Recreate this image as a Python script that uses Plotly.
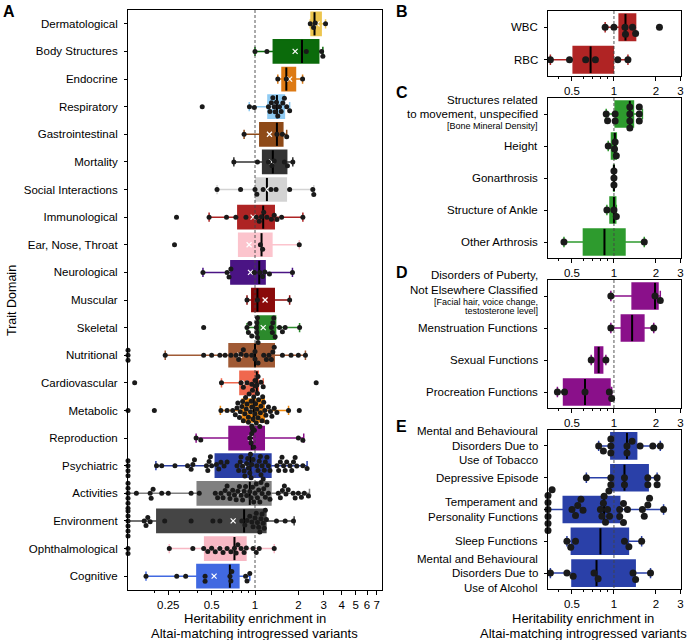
import math
import plotly.graph_objects as go

# ---------------- data: panel A ----------------
A_labels = ["Dermatological", "Body Structures", "Endocrine", "Respiratory", "Gastrointestinal",
            "Mortality", "Social Interactions", "Immunological", "Ear, Nose, Throat", "Neurological",
            "Muscular", "Skeletal", "Nutritional", "Cardiovascular", "Metabolic", "Reproduction",
            "Psychiatric", "Activities", "Environment", "Ophthalmological", "Cognitive"]
A_colors = ["#EDC54E", "#0B6B0B", "#DD7A14", "#8FCBF3", "#8E4A18", "#333333", "#D3D3D3",
            "#AE2424", "#FCC4CD", "#4A1484", "#8A0A0A", "#2C8A2C", "#A05A35", "#F0684E",
            "#F08A10", "#8A108A", "#2A3FA5", "#808080", "#454545", "#F8B8C4", "#4169E1"]
A_q1 = [2.45, 1.34, 1.54, 1.23, 1.08, 1.13, 1.01, 0.76, 0.77, 0.68, 0.95, 1.04, 0.66, 0.786,
        0.815, 0.66, 0.53, 0.397, 0.208, 0.447, 0.395]
A_median = [2.59, 2.12, 1.65, 1.42, 1.42, 1.33, 1.21, 1.14, 1.11, 1.07, 1.04, 1.04, 1.0, 1.03,
            0.98, 0.95, 0.93, 0.92, 0.84, 0.72, 0.669]
A_q3 = [2.88, 2.77, 1.91, 1.60, 1.56, 1.66, 1.65, 1.36, 1.31, 1.175, 1.36, 1.39, 1.36, 1.055,
        1.16, 1.16, 1.29, 1.29, 1.19, 0.865, 0.773]
A_low = [2.42, 1.0, 1.44, 0.912, 0.84, 0.713, 0.545, 0.48, 0.77, 0.435, 0.88, 0.88, 0.238, 0.585,
         0.575, 0.39, 0.205, 0.0, 0.0, 0.254, 0.175]
A_high = [3.09, 2.96, 2.14, 1.74, 1.66, 1.83, 2.56, 2.15, 2.03, 1.82, 1.74, 2.04, 2.24, 1.14,
          1.71, 2.18, 2.3, 2.39, 1.87, 1.36, 0.92]
A_mean = [2.70, 1.90, 1.74, 1.33, 1.26, 1.30, 1.2, 0.97, 0.91, 0.93, 1.175, 1.14, 0.78, 0.85,
          0.93, 0.93, 0.85, 0.79, 0.705, 0.57, 0.52]

pts_dermatological = [2.42, 2.55, 2.62, 3.09]
pts_body = [1.0, 1.21, 2.27, 2.9, 2.96]
pts_endocrine = [1.44, 1.65, 2.14]
pts_respiratory = [0.43, 0.915, 0.99, 1.24, 1.27, 1.3, 1.33, 1.36, 1.38, 1.41, 1.44, 1.48, 1.52,
                   1.56, 1.6, 1.66, 1.74]
pts_gastro = [0.84, 1.42, 1.55, 1.66]
pts_mortality = [0.713, 1.04, 1.24, 1.31, 1.36, 1.6, 1.68, 1.83]
pts_social = [0.545, 0.794, 1.0, 1.03, 1.14, 1.29, 1.40, 1.74, 2.52, 2.56]
pts_immuno = [0.285, 0.48, 0.634, 0.736, 0.865, 1.02, 1.07, 1.11, 1.15, 1.21, 1.3, 1.36, 1.42,
              1.53, 2.15]
pts_ent = [0.276, 1.09, 1.13, 2.03]
pts_neuro = [0.435, 0.64, 0.66, 0.68, 0.99, 1.08, 1.13, 1.17, 1.26, 1.82]
pts_muscular = [0.88, 1.04, 1.74]
pts_skeletal = [0.44, 0.88, 0.9, 0.92, 0.95, 1.02, 1.03, 1.03, 1.04, 1.04, 1.05, 1.3, 1.32, 1.33,
                1.35, 1.38, 1.48, 1.55, 1.62, 2.04]
pts_nutritional = [0, 0, 0, 0.238, 0.44, 0.5, 0.57, 0.62, 0.68, 0.74, 0.77, 0.8, 0.83, 0.87, 0.95,
                   1.0, 1.0, 1.05, 1.15, 1.2, 1.25, 1.3, 1.33, 1.36, 1.55, 1.78, 2.0, 2.24]
pts_cardio = [0.146, 0.585, 0.80, 0.83, 0.88, 0.95, 1.0, 1.03, 1.05, 1.1, 1.14, 2.66]
pts_metabolic = [0, 0.2, 0.58, 0.64, 0.7, 0.73, 0.75, 0.76, 0.78, 0.79, 0.81, 0.82, 0.83, 0.85,
                 0.86, 0.87, 0.88, 0.9, 0.9, 0.91, 0.93, 0.94, 0.95, 0.95, 0.96, 0.97, 0.98, 0.99,
                 1.0, 1.0, 1.01, 1.02, 1.03, 1.04, 1.05, 1.06, 1.08, 1.09, 1.1, 1.12, 1.13, 1.15,
                 1.17, 1.19, 1.21, 1.24, 1.28, 1.31, 1.36, 1.42, 1.71, 2.03]
pts_reproduction = [0.39, 0.42, 0.92, 0.94, 0.95, 0.96, 0.98, 2.0, 2.15]
pts_psychiatric = [0, 0, 0, 0, 0.207, 0.225, 0.278, 0.34, 0.36, 0.37, 0.38, 0.46, 0.47, 0.48, 0.49,
                   0.5, 0.54, 0.56, 0.58, 0.61, 0.64, 0.75, 0.77, 0.79, 0.8, 0.82, 0.84, 0.85,
                   0.875, 0.89, 0.9, 0.92, 0.93, 0.94, 0.95, 0.97, 1.03, 1.05, 1.07, 1.09, 1.1,
                   1.12, 1.14, 1.16, 1.18, 1.21, 1.24, 1.27, 1.42, 1.46, 1.5, 1.54, 1.58, 1.62,
                   1.66, 1.75, 1.8, 1.85, 1.9, 1.95, 2.15, 2.3]
pts_activities = [0, 0, 0, 0, 0, 0, 0.15, 0.187, 0.19, 0.196, 0.225, 0.25, 0.36, 0.41, 0.53, 0.55,
                  0.58, 0.6, 0.62, 0.64, 0.66, 0.67, 0.7, 0.72, 0.74, 0.76, 0.78, 0.8, 0.82, 0.84,
                  0.86, 0.875, 0.92, 0.94, 0.96, 0.98, 1.0, 1.02, 1.04, 1.06, 1.08, 1.1, 1.12,
                  1.15, 1.18, 1.21, 1.24, 1.27, 1.45, 1.5, 1.55, 1.6, 1.64, 1.7, 1.84, 1.9, 2.0,
                  2.1, 2.2, 2.35]
pts_environment = [0, 0, 0, 0, 0, 0, 0.17, 0.175, 0.18, 0.187, 0.236, 0.36, 0.51, 0.57, 0.81,
                   0.85, 0.88, 0.92, 0.95, 0.97, 1.0, 1.02, 1.04, 1.06, 1.08, 1.1, 1.12, 1.14,
                   1.16, 1.18, 1.2, 1.41, 1.62, 1.85]
pts_ophthalmological = [0, 0, 0.254, 0.37, 0.44, 0.47, 0.5, 0.53, 0.57, 0.6, 0.64, 0.68, 0.72,
                        0.74, 0.76, 0.8, 0.84, 0.87, 0.97, 1.02, 1.07, 1.36]
pts_cognitive = [0.175, 0.286, 0.33, 0.45, 0.45, 0.67, 0.68, 0.69, 0.86, 0.88, 0.92]

A_points = [pts_dermatological, pts_body, pts_endocrine, pts_respiratory, pts_gastro,
            pts_mortality, pts_social, pts_immuno, pts_ent, pts_neuro, pts_muscular,
            pts_skeletal, pts_nutritional, pts_cardio, pts_metabolic, pts_reproduction,
            pts_psychiatric, pts_activities, pts_environment, pts_ophthalmological, pts_cognitive]

# ---------------- data: panel B ----------------
B_labels = [["WBC"], ["RBC"]]
B_q1 = [1.09, 0.51]
B_median = [1.21, 0.68]
B_q3 = [1.43, 0.99]
B_low = [0.865, 0.35]
B_high = [1.43, 1.26]
B_points = [[0.865, 1.0, 1.2, 1.21, 1.36, 1.43, 2.12],
            [0.35, 0.48, 0.627, 0.736, 1.066, 1.26]]

# ---------------- data: panel C ----------------
C_labels = [["Structures related", "to movement, unspecified", "[Bone Mineral Density]"],
            ["Height"], ["Gonarthrosis"], ["Structure of Ankle"], ["Other Arthrosis"]]
C_q1 = [1.02, 0.96, 0.995, 0.937, 0.604]
C_median = [1.30, 1.016, 1.0, 1.0, 0.855]
C_q3 = [1.38, 1.04, 1.005, 1.03, 1.2]
C_low = [0.88, 0.91, 0.995, 0.89, 0.438]
C_high = [1.60, 1.04, 1.005, 1.04, 1.65]
C_points = [[0.88, 0.9, 1.02, 1.02, 1.3, 1.3, 1.3, 1.3, 1.52, 1.52, 1.52],
            [0.91, 1.01, 1.02, 1.04],
            [1.0, 1.0, 1.0],
            [0.89, 1.0, 1.04],
            [0.438, 1.65]]

# ---------------- data: panel D ----------------
D_labels = [["Disorders of Puberty,", "Not Elsewhere Classified",
             "[Facial hair, voice change,", "testosterone level]"],
            ["Menstruation Functions"], ["Sexual Functions"], ["Procreation Functions"]]
D_q1 = [1.35, 1.13, 0.73, 0.435]
D_median = [1.97, 1.35, 0.777, 0.62]
D_q3 = [2.07, 1.64, 0.83, 0.937]
D_low = [0.95, 0.95, 0.687, 0.393]
D_high = [2.15, 1.93, 0.875, 0.963]
D_points = [[0.95, 1.97, 2.15], [0.95, 1.93], [0.687, 0.875],
            [0.393, 0.442, 0.62, 0.927, 0.963]]

# ---------------- data: panel E ----------------
E_labels = [["Mental and Behavioural", "Disorders Due to", "Use of Tobacco"],
            ["Depressive Episode"], ["Temperament and", "Personality Functions"],
            ["Sleep Functions"], ["Mental and Behavioural", "Disorders Due to", "Use of Alcohol"]]
E_q1 = [0.95, 0.95, 0.433, 0.495, 0.5]
E_median = [1.24, 1.19, 0.85, 0.8, 0.75]
E_q3 = [1.455, 1.76, 1.1, 1.27, 1.42]
E_low = [0.777, 0.634, 0.0, 0.46, 0.35]
E_high = [2.15, 2.04, 2.27, 1.58, 1.83]
E_points = [[0.777, 0.84, 0.95, 0.95, 0.95, 1.24, 1.24, 1.35, 1.54, 1.9, 2.15],
            [0.634, 0.95, 0.95, 1.19, 1.19, 1.75, 1.75, 2.04, 2.04],
            [0, 0, 0, 0, 0, 0, 0.36, 0.5, 0.53, 0.55, 0.58, 0.6, 0.8, 0.82, 0.84, 0.85, 0.87,
             0.9, 0.92, 0.93, 1.1, 1.1, 1.17, 1.17, 1.25, 1.6, 1.65, 1.75, 1.8, 2.27],
            [0.46, 0.49, 0.53, 1.19, 1.28, 1.58],
            [0.35, 0.46, 0.51, 0.72, 0.77, 1.37, 1.43, 1.83]]

A_ticks = [0.25, 0.5, 1, 2, 3, 4, 5, 6, 7]
A_tick_text = ["0.25", "0.5", "1", "2", "3", "4", "5", "6", "7"]
A_minor = [0.2, 0.3, 0.4, 0.6, 0.7, 0.8, 0.9]
R_ticks = [0.5, 1, 2, 3]
R_tick_text = ["0.5", "1", "2", "3"]
R_minor = [0.4, 0.6, 0.7, 0.8, 0.9]

# ---------------- layout geometry ----------------
W, H = 689, 640
FONT = "Liberation Sans, Arial, Helvetica, sans-serif"


def xp(px):
    return px / W


def yp(py):
    return 1 - py / H


RED, GREEN, MAGENTA, BLUE = "#B02424", "#2E9B2E", "#8A108A", "#2A40A8"
RXR = (-0.473, 0.481)

# vertical px offsets of multi-line right-panel label lines relative to their tick
LINE_OFFSETS = {("C", 0): [-14, 0, 12], ("D", 0): [-21, -6, 6, 15],
                ("E", 0): [-14.5, 0, 14.5], ("E", 2): [-7.5, 7], ("E", 4): [-14.5, 0, 14.5]}

panels = [
    dict(name="A", sfx="", px=(128, 382, 10, 590), xr=(-0.882, 0.882), labels=A_labels,
         colors=A_colors, q1=A_q1, med=A_median, q3=A_q3, lo=A_low, hi=A_high, pts=A_points,
         mean=A_mean, msize=5, bw=0.84, ticks=(A_ticks, A_tick_text, A_minor)),
    dict(name="B", sfx="2", px=(548, 681, 11, 76), xr=RXR, labels=B_labels,
         colors=[RED] * 2, q1=B_q1, med=B_median, q3=B_q3, lo=B_low, hi=B_high, pts=B_points,
         mean=None, msize=7, bw=0.82, ticks=(R_ticks, R_tick_text, R_minor)),
    dict(name="C", sfx="3", px=(548, 681, 98, 258), xr=RXR, labels=C_labels,
         colors=[GREEN] * 5, q1=C_q1, med=C_median, q3=C_q3, lo=C_low, hi=C_high, pts=C_points,
         mean=None, msize=7, bw=0.82, ticks=(R_ticks, R_tick_text, R_minor)),
    dict(name="D", sfx="4", px=(548, 681, 280, 408), xr=RXR, labels=D_labels,
         colors=[MAGENTA] * 4, q1=D_q1, med=D_median, q3=D_q3, lo=D_low, hi=D_high,
         pts=D_points, mean=None, msize=7, bw=0.82, ticks=(R_ticks, R_tick_text, R_minor)),
    dict(name="E", sfx="5", px=(548, 681, 430, 589), xr=RXR, labels=E_labels,
         colors=[BLUE] * 5, q1=E_q1, med=E_median, q3=E_q3, lo=E_low, hi=E_high, pts=E_points,
         mean=None, msize=7, bw=0.82, ticks=(R_ticks, R_tick_text, R_minor)),
]


def swarm_offsets(xpx, d):
    order = sorted(range(len(xpx)), key=lambda i: xpx[i])
    placed = []
    offs = [0.0] * len(xpx)
    for i in order:
        x = xpx[i]
        near = [(px, py) for (px, py) in placed if abs(px - x) < d]
        cands = [0.0]
        for px, py in near:
            dy = math.sqrt(max(d * d - (px - x) ** 2, 0.0))
            cands += [py + dy, py - dy]
        cands.sort(key=lambda c: (round(abs(c), 6), -c))
        chosen = cands[-1]
        for c in cands:
            if all((px - x) ** 2 + (py - c) ** 2 >= d * d - 1e-6 for px, py in near):
                chosen = c
                break
        placed.append((x, chosen))
        offs[i] = chosen
    return offs


fig = go.Figure()
layout_axes = {}
annotations = []

for p in panels:
    s = p["sfx"]
    xa, ya = "x" + s, "y" + s
    left, right, top, bottom = p["px"]
    n = len(p["labels"])
    xmin = 10 ** p["xr"][0]
    ppu_y = (bottom - top) / n
    ppu_x = (right - left) / (p["xr"][1] - p["xr"][0])
    bw = p["bw"]

    for j in range(n):
        col = p["colors"][j]
        fig.add_trace(go.Box(
            y=[j], q1=[p["q1"][j]], median=[p["med"][j]], q3=[p["q3"][j]],
            lowerfence=[max(p["lo"][j], xmin * 0.8)], upperfence=[p["hi"][j]],
            orientation="h", width=bw, fillcolor=col,
            line=dict(color=col, width=1.5), whiskerwidth=0.4, boxpoints=False,
            xaxis=xa, yaxis=ya, showlegend=False, hoverinfo="skip"))

    fig.add_trace(go.Scatter(x=[1, 1], y=[-0.5, n - 0.5], mode="lines",
                             line=dict(color="#444444", width=0.9, dash="3px,2px"),
                             xaxis=xa, yaxis=ya, showlegend=False, hoverinfo="skip"))

    mx, my = [], []
    for j in range(n):
        mx += [p["med"][j], p["med"][j], None]
        my += [j - bw / 2, j + bw / 2, None]
    fig.add_trace(go.Scatter(x=mx, y=my, mode="lines", line=dict(color="black", width=2),
                             xaxis=xa, yaxis=ya, showlegend=False, hoverinfo="skip"))

    if p["mean"] is not None:
        fig.add_trace(go.Scatter(
            x=p["mean"], y=list(range(n)), mode="markers",
            marker=dict(symbol="x-thin", size=5, color="white",
                        line=dict(color="white", width=1.2)),
            xaxis=xa, yaxis=ya, showlegend=False, hoverinfo="skip"))

    sx, sy = [], []
    for j in range(n):
        vals = [max(v, xmin) for v in p["pts"][j]]
        xpx = [(math.log10(v) - p["xr"][0]) * ppu_x for v in vals]
        offs = swarm_offsets(xpx, p["msize"])
        sx += vals
        sy += [j + o / ppu_y for o in offs]
    fig.add_trace(go.Scatter(x=sx, y=sy, mode="markers",
                             marker=dict(color="#1a1a1a", size=p["msize"], line=dict(width=0)),
                             cliponaxis=False, xaxis=xa, yaxis=ya, showlegend=False,
                             hoverinfo="skip"))

    tv, tt, mv = p["ticks"]
    layout_axes["xaxis" + s] = dict(
        type="log", range=list(p["xr"]), domain=[xp(left), xp(right)], anchor=ya,
        tickvals=tv, ticktext=tt, ticks="outside", ticklen=4, tickcolor="black",
        tickfont=dict(size=11.5, color="black", family=FONT),
        minor=dict(tickvals=mv, ticks="outside", ticklen=2, tickcolor="black"),
        showline=True, linecolor="black", linewidth=1, mirror=True,
        showgrid=False, zeroline=False, automargin=False)
    yax = dict(
        range=[n - 0.5, -0.5], domain=[yp(bottom), yp(top)], anchor=xa,
        tickvals=list(range(n)), ticks="outside", ticklen=3,
        tickcolor="black", tickfont=dict(size=11.5, color="black", family=FONT),
        showline=True, linecolor="black", linewidth=1, mirror=True,
        showgrid=False, zeroline=False, automargin=False)
    if p["name"] == "A":
        yax.update(ticktext=p["labels"], ticklabelstandoff=4)
    else:
        yax.update(showticklabels=False)
        for j, lines in enumerate(p["labels"]):
            tick_py = top + (j + 0.5) * ppu_y
            offs = LINE_OFFSETS.get((p["name"], j), [0])
            for line, o in zip(lines, offs):
                small = line.startswith("[") or line.endswith("]")
                annotations.append(dict(
                    text=line, x=xp(540), y=yp(tick_py + o), xref="paper", yref="paper",
                    xanchor="right", yanchor="middle", showarrow=False,
                    font=dict(size=9 if small else 11.5, color="black", family=FONT)))
    layout_axes["yaxis" + s] = yax

for letter, x, y in [("A", 1, 1), ("B", 394, 1), ("C", 394, 82), ("D", 394, 262),
                     ("E", 394, 416)]:
    annotations.append(dict(text="<b>%s</b>" % letter, x=xp(x), y=yp(y), xref="paper",
                            yref="paper", xanchor="left", yanchor="top", showarrow=False,
                            font=dict(size=16, color="black", family=FONT)))
for cx in (255, 583):
    for txt, cy in [("Heritability enrichment in", 618),
                    ("Altai-matching introgressed variants", 633)]:
        annotations.append(dict(text=txt, x=xp(cx), y=yp(cy), xref="paper", yref="paper",
                                xanchor="center", yanchor="middle", showarrow=False,
                                font=dict(size=13, color="black", family=FONT)))
annotations.append(dict(text="Trait Domain", x=xp(12), y=yp(301), xref="paper", yref="paper",
                        xanchor="center", yanchor="middle", showarrow=False, textangle=-90,
                        font=dict(size=12.5, color="black", family=FONT)))

fig.update_layout(
    template="none", width=W, height=H, margin=dict(l=0, r=0, t=0, b=0),
    paper_bgcolor="white", plot_bgcolor="white", showlegend=False,
    font=dict(family=FONT, color="black"), boxmode="overlay",
    annotations=annotations, **layout_axes)

fig.write_html("out.html", config={"displayModeBar": False},
               post_script="document.body.style.margin='0px';"
                           "document.body.style.padding='0px';"
                           "document.body.style.overflow='hidden';")
